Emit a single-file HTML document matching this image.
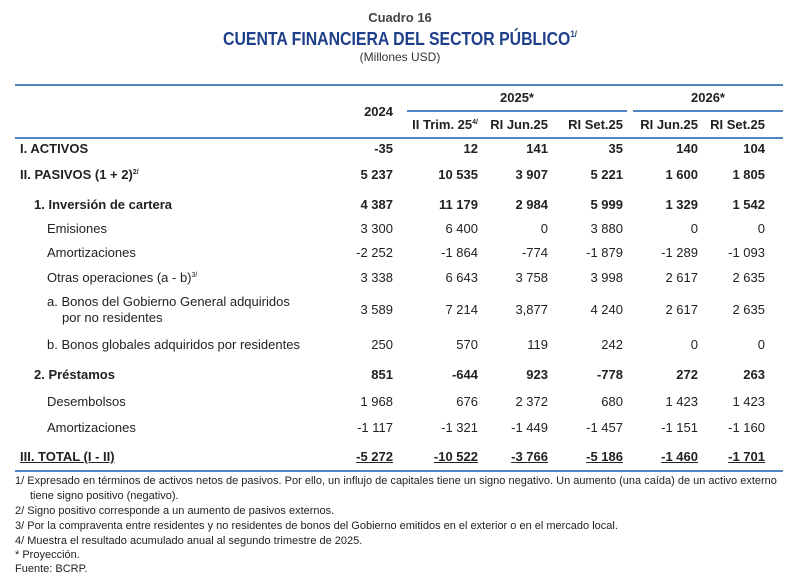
<!DOCTYPE html>
<html><head><meta charset="utf-8"><style>
body{margin:0;width:800px;height:585px;background:#fff;position:relative;font-family:"Liberation Sans Narrow","Liberation Sans",sans-serif;color:#222;overflow:hidden}
.t{position:absolute;white-space:nowrap;font-size:13px;line-height:16px}
.b{font-weight:bold}
.line{position:absolute;background:#4f86c0}
.n{position:absolute;white-space:nowrap;font-size:13px;line-height:16px;text-align:right;width:80px}
.f{position:absolute;left:15px;font-size:11px;line-height:14px;white-space:nowrap;color:#222}
sup{font-size:7px;vertical-align:5px;line-height:0}
</style></head><body>
<div class="t b" style="left:0;width:800px;text-align:center;top:10px;color:#444">Cuadro 16</div>
<div class="t b" style="left:0;width:800px;text-align:center;top:28px;font-size:18px;line-height:22px;color:#1f3f8a;transform:scaleX(0.88)">CUENTA FINANCIERA DEL SECTOR PÚBLICO<sup style="font-size:9px;vertical-align:8px">1/</sup></div>
<div class="t" style="left:0;width:800px;text-align:center;top:49px;font-size:12px;color:#333">(Millones USD)</div>

<div class="line" style="left:15px;top:84px;width:768px;height:2px"></div>
<div class="line" style="left:407px;top:110px;width:220px;height:1.5px"></div>
<div class="line" style="left:633px;top:110px;width:150px;height:1.5px"></div>
<div class="line" style="left:15px;top:137px;width:768px;height:1.5px"></div>
<div class="line" style="left:15px;top:470px;width:768px;height:1.5px"></div>

<div class="t b" style="left:407px;width:220px;text-align:center;top:90px">2025*</div>
<div class="t b" style="left:633px;width:150px;text-align:center;top:90px">2026*</div>
<div class="n b" style="left:313px;top:104px">2024</div>
<div class="n b" style="left:398px;top:117px">II Trim. 25<sup>4/</sup></div>
<div class="n b" style="left:468px;top:117px">RI Jun.25</div>
<div class="n b" style="left:543px;top:117px">RI Set.25</div>
<div class="n b" style="left:618px;top:117px">RI Jun.25</div>
<div class="n b" style="left:685px;top:117px">RI Set.25</div>

<div id="rows"></div>
<script>
var rows=[
[141,"I. ACTIVOS",20,1,["-35","12","141","35","140","104"]],
[167,"II. PASIVOS (1 + 2)<sup>2/</sup>",20,1,["5 237","10 535","3 907","5 221","1 600","1 805"]],
[197,"1. Inversión de cartera",34,1,["4 387","11 179","2 984","5 999","1 329","1 542"]],
[221,"Emisiones",47,0,["3 300","6 400","0","3 880","0","0"]],
[245,"Amortizaciones",47,0,["-2 252","-1 864","-774","-1 879","-1 289","-1 093"]],
[270,"Otras operaciones (a - b)<sup>3/</sup>",47,0,["3 338","6 643","3 758","3 998","2 617","2 635"]],
[302,"a. Bonos del Gobierno General adquiridos",47,0,["3 589","7 214","3,877","4 240","2 617","2 635"]],
[337,"b. Bonos globales adquiridos por residentes",47,0,["250","570","119","242","0","0"]],
[367,"2. Préstamos",34,1,["851","-644","923","-778","272","263"]],
[394,"Desembolsos",47,0,["1 968","676","2 372","680","1 423","1 423"]],
[420,"Amortizaciones",47,0,["-1 117","-1 321","-1 449","-1 457","-1 151","-1 160"]],
[449,"III. TOTAL (I - II)",20,1,["-5 272","-10 522","-3 766","-5 186","-1 460","-1 701"]]
];
var xs=[393,478,548,623,698,765];
var h="";
rows.forEach(function(r,i){
 var ty=r[0]; if(i==6) ty=294;
 var u=(i==11)?"text-decoration:underline;":"";
 h+='<div class="t'+(r[3]?' b':'')+'" style="left:'+r[2]+'px;top:'+ty+'px;'+u+'">'+r[1]+'</div>';
 if(i==6) h+='<div class="t" style="left:62px;top:310px">por no residentes</div>';
 r[4].forEach(function(v,j){h+='<div class="n'+(r[3]?' b':'')+'" style="left:'+(xs[j]-80)+'px;top:'+r[0]+'px;'+u+'">'+v+'</div>';});
});
document.getElementById("rows").innerHTML=h;
</script>
<div class="f" style="top:474px">1/ Expresado en términos de activos netos de pasivos. Por ello, un influjo de capitales tiene un signo negativo. Un aumento (una caída) de un activo externo</div>
<div class="f" style="top:489px;left:30px">tiene signo positivo (negativo).</div>
<div class="f" style="top:504px">2/ Signo positivo corresponde a un aumento de pasivos externos.</div>
<div class="f" style="top:519px">3/ Por la compraventa entre residentes y no residentes de bonos del Gobierno emitidos en el exterior o en el mercado local.</div>
<div class="f" style="top:534px">4/ Muestra el resultado acumulado anual al segundo trimestre de 2025.</div>
<div class="f" style="top:548px">* Proyección.</div>
<div class="f" style="top:562px">Fuente: BCRP.</div>
</body></html>
